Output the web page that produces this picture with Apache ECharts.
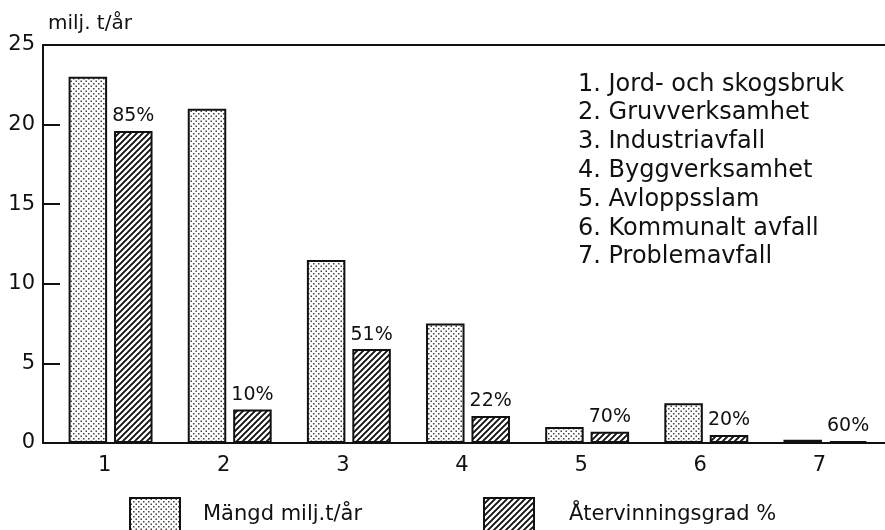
<!DOCTYPE html>
<html>
<head>
<meta charset="utf-8">
<script src="https://cdn.jsdelivr.net/npm/echarts@6/dist/echarts.min.js"></script>
<style>
  html, body { margin: 0; padding: 0; background: #fff; }
  #chart { width: 885px; height: 530px; }
</style>
</head>
<body>
<div id="chart"></div>
<script>
const categories = ['1', '2', '3', '4', '5', '6', '7'];
const sectorNames = [
  'Jord- och skogsbruk',
  'Gruvverksamhet',
  'Industriavfall',
  'Byggverksamhet',
  'Avloppsslam',
  'Kommunalt avfall',
  'Problemavfall',
];
// milj. t/år
const amounts = [23, 21, 11.5, 7.5, 1.0, 2.5, 0.2];
// recycled amount, milj. t/år
const recycled = [19.6, 2.1, 5.9, 1.7, 0.7, 0.5, 0.12];
const recyclePct = [85, 10, 51, 22, 70, 20, 60];
const yTicks = [0, 5, 10, 15, 20, 25];

const FONT = 'DejaVu Sans';
const INK = '#111';

function dotPattern() {
  const s = 5;
  const c = document.createElement('canvas');
  c.width = s;
  c.height = s;
  const ctx = c.getContext('2d');
  ctx.fillStyle = '#fff';
  ctx.fillRect(0, 0, s, s);
  ctx.fillStyle = '#444';
  ctx.fillRect(0.5, 0.5, 1.5, 1.5);
  ctx.fillRect(3, 3, 1.5, 1.5);
  return c;
}

function hatchPattern() {
  const s = 6;
  const c = document.createElement('canvas');
  c.width = s;
  c.height = s;
  const ctx = c.getContext('2d');
  ctx.fillStyle = '#fff';
  ctx.fillRect(0, 0, s, s);
  ctx.strokeStyle = '#111';
  ctx.lineWidth = 1.9;
  ctx.beginPath();
  ctx.moveTo(-1, s + 1);
  ctx.lineTo(s + 1, -1);
  ctx.moveTo(-1, 1);
  ctx.lineTo(1, -1);
  ctx.moveTo(s - 1, s + 1);
  ctx.lineTo(s + 1, s - 1);
  ctx.stroke();
  return c;
}

const dotFill = { image: dotPattern(), repeat: 'repeat' };
const hatchFill = { image: hatchPattern(), repeat: 'repeat' };

const chart = echarts.init(document.getElementById('chart'));

const option = {
  animation: false,
  backgroundColor: '#fff',
  textStyle: { fontFamily: FONT, color: INK },
  title: {
    text: sectorNames.map((n, i) => (i + 1) + '. ' + n).join('\n'),
    left: 578,
    top: 70,
    padding: 0,
    textStyle: {
      fontFamily: FONT,
      fontSize: 24,
      fontWeight: 'normal',
      lineHeight: 28.8,
      color: INK,
    },
  },
  legend: [
    {
      data: ['Mängd milj.t/år'],
      left: 129,
      top: 497,
      padding: 0,
      icon: 'rect',
      itemWidth: 50,
      itemHeight: 34,
      textStyle: { fontFamily: FONT, fontSize: 21, color: INK, padding: [0, 0, 0, 18] },
    },
    {
      data: ['Återvinningsgrad %'],
      left: 483,
      top: 497,
      padding: 0,
      icon: 'rect',
      itemWidth: 50,
      itemHeight: 34,
      textStyle: { fontFamily: FONT, fontSize: 21, color: INK, padding: [0, 0, 0, 30] },
    },
  ],
  grid: [
    { left: 43, right: 0, top: 45, bottom: 87 },
    { left: 51, right: -5, top: 45, bottom: 87 },
  ],
  xAxis: [
    {
      gridIndex: 0,
      type: 'value',
      min: 0,
      max: 1,
      axisLine: { show: true, lineStyle: { color: INK, width: 2 } },
      axisTick: { show: false },
      axisLabel: { show: false },
      splitLine: { show: false },
    },
    {
      gridIndex: 0,
      type: 'value',
      position: 'top',
      min: 0,
      max: 1,
      axisLine: { show: true, lineStyle: { color: INK, width: 2 } },
      axisTick: { show: false },
      axisLabel: { show: false },
      splitLine: { show: false },
    },
    {
      gridIndex: 1,
      type: 'category',
      data: categories,
      axisLine: { show: false },
      axisTick: { show: false },
      axisLabel: {
        fontFamily: FONT,
        fontSize: 21,
        color: INK,
        margin: 12,
        padding: [0, 12, 0, 0],
      },
    },
  ],
  yAxis: [
    {
      gridIndex: 0,
      type: 'value',
      min: yTicks[0],
      max: yTicks[yTicks.length - 1],
      interval: yTicks[1] - yTicks[0],
      name: 'milj. t/år',
      nameLocation: 'end',
      nameGap: 11,
      nameTextStyle: {
        fontFamily: FONT,
        fontSize: 20,
        color: INK,
        align: 'left',
        padding: [0, 0, 0, 5],
      },
      axisLine: { show: true, lineStyle: { color: INK, width: 2 } },
      axisTick: { show: true, inside: true, length: 17, lineStyle: { color: INK, width: 2 } },
      axisLabel: { fontFamily: FONT, fontSize: 21, color: INK, margin: 8 },
      splitLine: { show: false },
    },
    {
      gridIndex: 1,
      type: 'value',
      min: 0,
      max: 25,
      show: false,
      splitLine: { show: false },
    },
  ],
  series: [
    {
      name: 'Mängd milj.t/år',
      type: 'bar',
      xAxisIndex: 2,
      yAxisIndex: 1,
      data: amounts,
      barWidth: 38.5,
      barGap: '18%',
      itemStyle: { color: dotFill, borderColor: INK, borderWidth: 2 },
    },
    {
      name: 'Återvinningsgrad %',
      type: 'bar',
      xAxisIndex: 2,
      yAxisIndex: 1,
      data: recycled,
      barWidth: 38.5,
      barGap: '18%',
      itemStyle: { color: hatchFill, borderColor: INK, borderWidth: 2 },
      label: {
        show: true,
        position: 'top',
        distance: 5,
        fontFamily: FONT,
        fontSize: 19,
        color: INK,
        formatter: (p) => recyclePct[p.dataIndex] + '%',
      },
    },
  ],
};

chart.setOption(option);
</script>
</body>
</html>
